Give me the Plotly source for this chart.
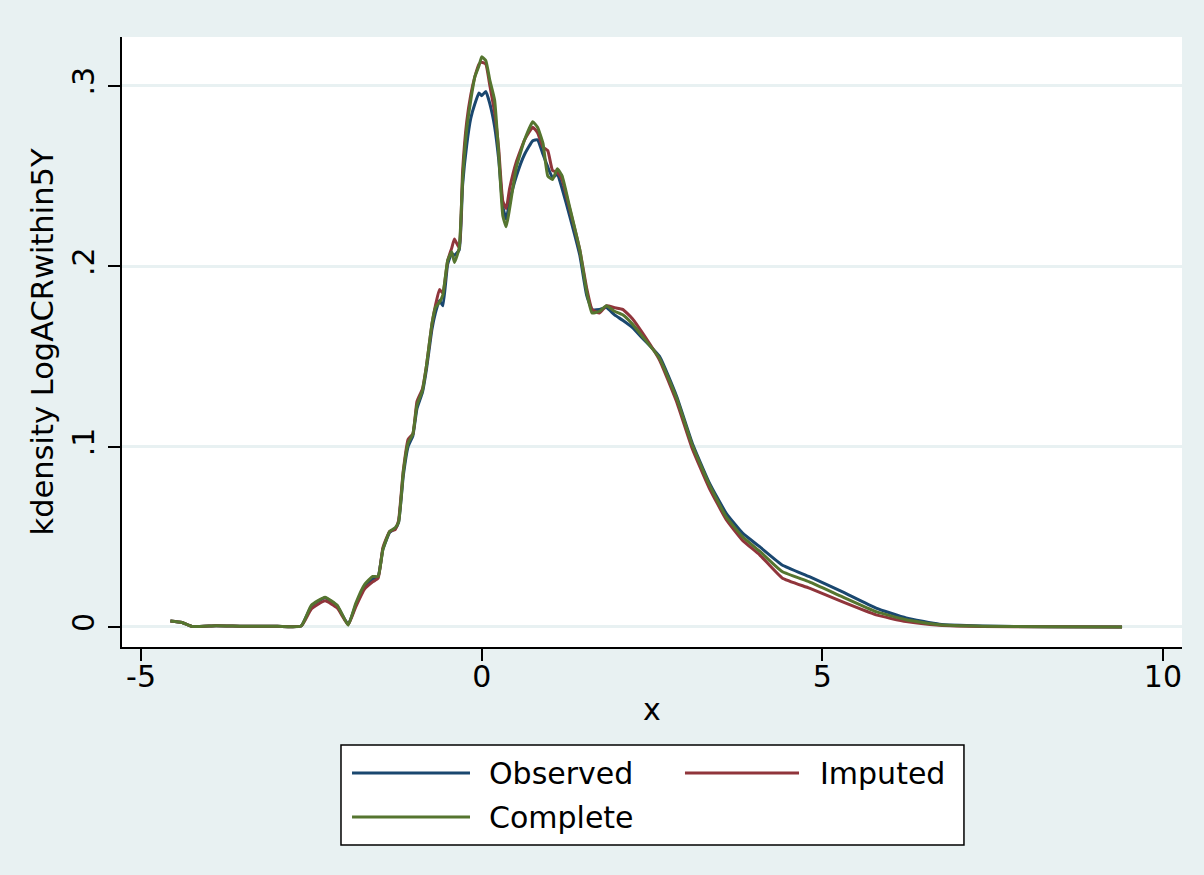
import plotly.graph_objects as go

# ---- data ----
x_grid = [-4.57, -4.40, -4.25, -3.9, -3.5, -3.0, -2.65, -2.5, -2.3, -2.12, -1.96, -1.85,
          -1.72, -1.60, -1.52, -1.45, -1.35, -1.27, -1.22, -1.15, -1.08, -1.01, -0.95,
          -0.87, -0.81, -0.73, -0.68, -0.62, -0.57, -0.50, -0.44, -0.40, -0.33, -0.28,
          -0.22, -0.16, -0.10, -0.04, 0.0, 0.06, 0.12, 0.19, 0.25, 0.31, 0.36, 0.41,
          0.51, 0.63, 0.75, 0.82, 0.90, 0.97, 1.04, 1.11, 1.18, 1.29, 1.44, 1.54, 1.62,
          1.73, 1.83, 1.95, 2.07, 2.21, 2.36, 2.61, 2.86, 3.09, 3.34, 3.59, 3.83, 4.08,
          4.41, 4.81, 5.29, 5.79, 6.23, 6.72, 7.35, 8.3, 9.4]

observed = [0.0033, 0.0025, 0.0003, 0.0007, 0.0004, 0.0004, 0.0005, 0.0115, 0.0162, 0.0115,
            0.0015, 0.012, 0.0225, 0.0265, 0.028, 0.043, 0.0525, 0.0545, 0.058, 0.084,
            0.100, 0.106, 0.121, 0.130, 0.143, 0.165, 0.174, 0.181, 0.178, 0.201, 0.207,
            0.206, 0.209, 0.245, 0.267, 0.282, 0.290, 0.296, 0.2945, 0.2968, 0.290, 0.2773,
            0.259, 0.233, 0.226, 0.236, 0.250, 0.262, 0.2695, 0.270, 0.262, 0.255, 0.249,
            0.251, 0.243, 0.228, 0.206, 0.184, 0.176, 0.176, 0.177, 0.173, 0.170, 0.166,
            0.160, 0.150, 0.128, 0.102, 0.080, 0.063, 0.052, 0.0445, 0.0344, 0.0279,
            0.0196, 0.0105, 0.005, 0.0015, 0.0005, 0.0001, 0.0]

imputed = [0.0033, 0.0025, 0.0003, 0.0007, 0.0004, 0.0004, 0.0005, 0.010, 0.0145, 0.0105,
           0.0012, 0.011, 0.021, 0.025, 0.027, 0.044, 0.053, 0.054, 0.059, 0.087,
           0.104, 0.107, 0.125, 0.132, 0.145, 0.168, 0.178, 0.187, 0.185, 0.203, 0.210,
           0.215, 0.210, 0.253, 0.280, 0.295, 0.305, 0.312, 0.313, 0.312, 0.300, 0.285,
           0.265, 0.236, 0.232, 0.243, 0.258, 0.270, 0.277, 0.274, 0.266, 0.264, 0.253,
           0.252, 0.248, 0.232, 0.209, 0.188, 0.176, 0.174, 0.178, 0.177, 0.176, 0.171,
           0.163, 0.148, 0.125, 0.099, 0.077, 0.0595, 0.048, 0.040, 0.0272, 0.0215,
           0.014, 0.0067, 0.003, 0.001, 0.0003, 0.0001, 0.0]

complete = [0.0033, 0.0025, 0.0003, 0.0007, 0.0004, 0.0004, 0.0005, 0.012, 0.0165, 0.012,
            0.001, 0.013, 0.0235, 0.028, 0.028, 0.043, 0.053, 0.055, 0.058, 0.086,
            0.102, 0.107, 0.123, 0.131, 0.145, 0.168, 0.177, 0.180, 0.184, 0.203, 0.208,
            0.202, 0.210, 0.248, 0.276, 0.292, 0.305, 0.311, 0.316, 0.314, 0.303, 0.292,
            0.262, 0.228, 0.2218, 0.232, 0.255, 0.270, 0.280, 0.277, 0.268, 0.250, 0.248,
            0.254, 0.250, 0.233, 0.209, 0.186, 0.174, 0.175, 0.178, 0.175, 0.173, 0.168,
            0.161, 0.149, 0.127, 0.101, 0.079, 0.061, 0.050, 0.042, 0.0307, 0.025,
            0.0168, 0.0085, 0.004, 0.0012, 0.0004, 0.0001, 0.0]

series_names = ["Observed", "Imputed", "Complete"]
series_values = [observed, imputed, complete]
series_colors = ["#1A476F", "#90353B", "#55752F"]

y_tickvals = [0, 0.1, 0.2, 0.3]
y_ticktext = ["0", ".1", ".2", ".3"]
x_tickvals = [-5, 0, 5, 10]
x_ticktext = ["-5", "0", "5", "10"]

BG = "#E8F1F2"
FONT = "DejaVu Sans"
FS = 30

fig = go.Figure()
for name, vals, col in zip(series_names, series_values, series_colors):
    fig.add_trace(go.Scatter(x=x_grid, y=vals, mode="lines", name=name,
                             line=dict(color=col, width=3, shape="spline", smoothing=0.4),
                             showlegend=False))

fig.update_layout(
    width=1204, height=875,
    paper_bgcolor=BG, plot_bgcolor="white",
    margin=dict(l=122, r=22, t=37, b=228),
    font=dict(family=FONT, size=FS, color="black"),
    xaxis=dict(range=[-5.28, 10.28], tickvals=x_tickvals, ticktext=x_ticktext,
               showgrid=False, zeroline=False, showline=True, linecolor="black",
               linewidth=1.5, ticks="outside", ticklen=12, tickwidth=1.5,
               tickcolor="black", ticklabelstandoff=-10,
               tickfont=dict(family=FONT, size=FS, color="black"),
               title=dict(text="x", standoff=6,
                          font=dict(family=FONT, size=FS, color="black"))),
    yaxis=dict(range=[-0.0111, 0.327], tickvals=y_tickvals, ticktext=y_ticktext,
               tickangle=-90, showgrid=True, gridcolor=BG, gridwidth=2.5,
               zeroline=False, showline=True, linecolor="black", linewidth=1.5,
               ticks="outside", ticklen=12, tickwidth=1.5, tickcolor="black",
               ticklabelstandoff=2, tickfont=dict(family=FONT, size=FS, color="black"),
               title=dict(text="kdensity LogACRwithin5Y", standoff=4,
                          font=dict(family=FONT, size=30.5, color="black"))),
)

# legend box drawn in paper coordinates (layout, not data)
fig.add_shape(type="rect", xref="paper", yref="paper", x0=0.2066, x1=0.7943,
              y0=-0.3246, y1=-0.1607, line=dict(color="black", width=1.5),
              fillcolor="white", layer="above")
legend_pos = [(0.2170, 0.3283, 0.3443, -0.2066),
              (0.5311, 0.6387, 0.6566, -0.2066),
              (0.2170, 0.3283, 0.3443, -0.2787)]
for (lx0, lx1, tx, ly), name, col in zip(legend_pos, series_names, series_colors):
    fig.add_shape(type="line", xref="paper", yref="paper", x0=lx0, x1=lx1, y0=ly, y1=ly,
                  line=dict(color=col, width=3), layer="above")
    fig.add_annotation(xref="paper", yref="paper", x=tx, y=ly, text=name,
                       showarrow=False, xanchor="left", yanchor="middle",
                       font=dict(family=FONT, size=FS, color="black"))

fig.write_html("out.html", config={"displayModeBar": False},
               post_script="document.body.style.margin='0';document.body.style.overflow='hidden';")
